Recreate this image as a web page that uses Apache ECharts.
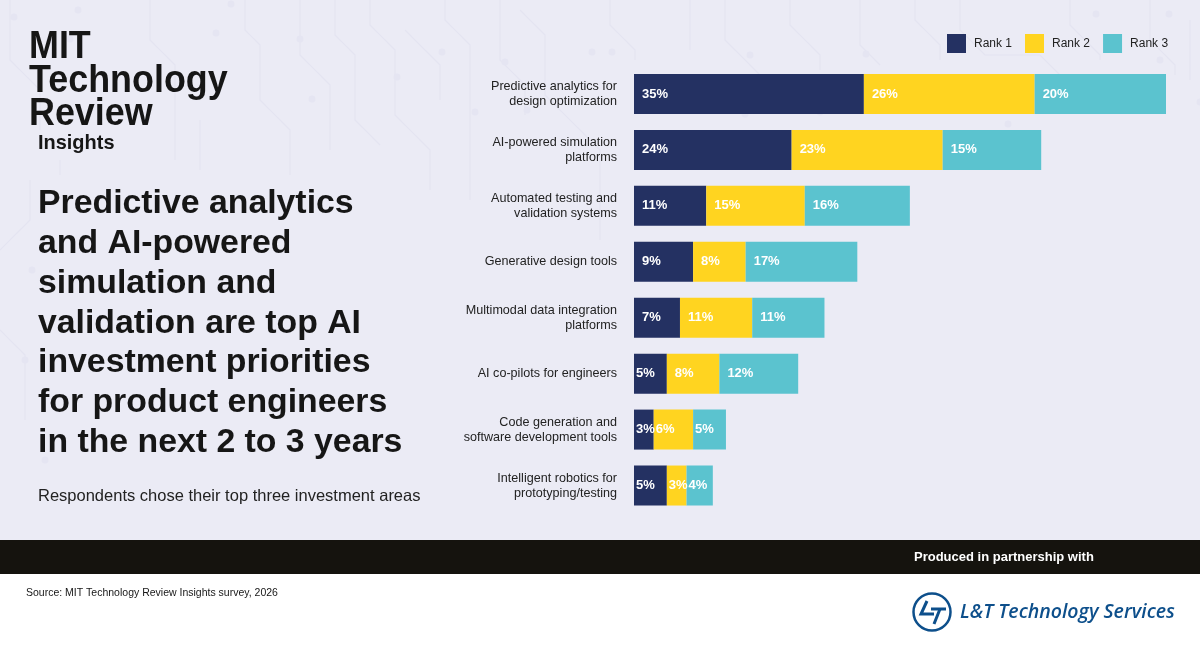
<!DOCTYPE html>
<html>
<head>
<meta charset="utf-8">
<script src="https://cdn.jsdelivr.net/npm/echarts@6/dist/echarts.min.js"></script>
<style>html,body{margin:0;padding:0;background:#ebebf5;}#chart{width:1200px;height:660px;}</style>
</head>
<body>
<div id="chart"></div>
<script>
const categories = [
  'Predictive analytics for\ndesign optimization',
  'AI-powered simulation\nplatforms',
  'Automated testing and\nvalidation systems',
  'Generative design tools',
  'Multimodal data integration\nplatforms',
  'AI co-pilots for engineers',
  'Code generation and\nsoftware development tools',
  'Intelligent robotics for\nprototyping/testing'
];
const seriesNames = ['Rank 1', 'Rank 2', 'Rank 3'];
const rank1 = [35, 24, 11, 9, 7, 5, 3, 5];
const rank2 = [26, 23, 15, 8, 11, 8, 6, 3];
const rank3 = [20, 15, 16, 17, 11, 12, 5, 4];
const colors = ['#243162', '#ffd420', '#5bc3cf'];

const titleLines = [
  'Predictive analytics',
  'and AI-powered',
  'simulation and',
  'validation are top AI',
  'investment priorities',
  'for product engineers',
  'in the next 2 to 3 years'
];
const subtitle = 'Respondents chose their top three investment areas';
const sourceText = 'Source: MIT Technology Review Insights survey, 2026';
const partnerText = 'Produced in partnership with';
const partnerName = 'L&T Technology Services';

const FONT = '"Liberation Sans", Arial, Helvetica, sans-serif';

function makeSeries(name, values, color) {
  return {
    name: name,
    type: 'bar',
    stack: 'total',
    barWidth: 40,
    itemStyle: { color: color },
    data: values.map(v => ({
      value: v,
      label: { distance: v >= 7 ? 8 : 2 }
    })),
    label: {
      show: true,
      position: 'insideLeft',
      formatter: '{c}%',
      color: '#ffffff',
      fontFamily: FONT,
      fontWeight: 'bold',
      fontSize: 13
    },
    emphasis: { disabled: true }
  };
}

// faint circuit-board decoration (background only)
const traceColor = '#e4e4f1';
const traces = [
  [[10, 0], [10, 60], [40, 90], [40, 130]],
  [[150, 0], [150, 40], [175, 65], [175, 160]],
  [[245, 0], [245, 30], [260, 45], [260, 100], [290, 130], [290, 175]],
  [[300, 0], [300, 55], [330, 85], [330, 150]],
  [[335, 0], [335, 35], [355, 55], [355, 120], [380, 145]],
  [[370, 0], [370, 25], [395, 50], [395, 115], [430, 150], [430, 190]],
  [[405, 30], [440, 65], [440, 100]],
  [[445, 0], [445, 20], [470, 45], [470, 200]],
  [[500, 0], [500, 60], [525, 85], [525, 115]],
  [[520, 10], [545, 35], [545, 95], [600, 150], [600, 240]],
  [[610, 0], [610, 25], [635, 50], [635, 60]],
  [[690, 0], [690, 50]],
  [[725, 0], [725, 40], [760, 75]],
  [[790, 0], [790, 25], [820, 55], [820, 70]],
  [[860, 0], [860, 45], [880, 65]],
  [[915, 0], [915, 20], [940, 45], [940, 60]],
  [[960, 0], [960, 30], [985, 55], [1040, 55], [1060, 75]],
  [[1070, 0], [1070, 25], [1100, 55], [1100, 60]],
  [[1150, 0], [1150, 40], [1175, 65], [1175, 75]],
  [[1190, 20], [1190, 80]],
  [[0, 250], [30, 220], [30, 180]],
  [[0, 330], [25, 355], [25, 420]],
  [[60, 160], [60, 175]],
  [[200, 120], [200, 170]]
];
const dots = [
  [14, 17], [49, 42], [70, 39], [216, 33], [231, 4], [300, 39], [397, 77], [312, 99],
  [442, 52], [475, 112], [505, 62], [527, 110], [592, 52], [612, 52], [640, 88],
  [750, 55], [745, 114], [795, 148], [820, 112], [840, 150], [866, 54], [918, 102],
  [1018, 79], [1008, 124], [1045, 110], [1096, 14], [1169, 14], [1160, 60], [1200, 102],
  [1215, 40], [32, 270], [45, 460], [25, 360], [78, 10]
];

const decoGraphics = traces.map(pts => ({
  type: 'polyline', silent: true, z: -2,
  shape: { points: pts },
  style: { fill: 'none', stroke: traceColor, lineWidth: 1.2 }
})).concat(dots.map(d => ({
  type: 'circle', silent: true, z: -2,
  shape: { cx: d[0], cy: d[1], r: 3.5 },
  style: { fill: '#e5e5f2' }
})));

const chart = echarts.init(document.getElementById('chart'), null, { renderer: 'canvas' });
const option = {
  backgroundColor: '#ebebf5',
  animation: false,
  legend: {
    data: seriesNames,
    left: 947,
    top: 34,
    padding: 0,
    icon: 'rect',
    itemWidth: 19,
    itemHeight: 19,
    itemGap: 13,
    textStyle: { color: '#222222', fontSize: 12, fontFamily: FONT, padding: [0, 0, 0, 3] },
    selectedMode: false
  },
  grid: { left: 634, right: 34, top: 66, bottom: 146.5, containLabel: false },
  xAxis: {
    type: 'value',
    min: 0,
    max: 81,
    show: false
  },
  yAxis: {
    type: 'category',
    data: categories,
    inverse: true,
    axisLine: { show: false },
    axisTick: { show: false },
    splitLine: { show: false },
    axisLabel: {
      margin: 17,
      color: '#222222',
      fontSize: 12.6,
      lineHeight: 15,
      fontFamily: FONT,
      align: 'right'
    }
  },
  series: [
    makeSeries(seriesNames[0], rank1, colors[0]),
    makeSeries(seriesNames[1], rank2, colors[1]),
    makeSeries(seriesNames[2], rank3, colors[2])
  ],
  graphic: decoGraphics.concat([
    { type: 'rect', shape: { x: 0, y: 540, width: 1200, height: 34 }, style: { fill: '#15130e' }, z: -1 },
    { type: 'rect', shape: { x: 0, y: 574, width: 1200, height: 86 }, style: { fill: '#ffffff' }, z: -1 },
    // MIT logo
    { type: 'text', x: 29, y: 47, scaleX: 0.92, style: { text: 'MIT', fill: '#161616', font: 'bold 39px ' + FONT, textVerticalAlign: 'middle' } },
    { type: 'text', x: 29, y: 81, scaleX: 0.92, style: { text: 'Technology', fill: '#161616', font: 'bold 39px ' + FONT, textVerticalAlign: 'middle' } },
    { type: 'text', x: 29, y: 114, scaleX: 0.92, style: { text: 'Review', fill: '#161616', font: 'bold 39px ' + FONT, textVerticalAlign: 'middle' } },
    { type: 'text', x: 38, y: 143, scaleX: 0.95, style: { text: 'Insights', fill: '#161616', font: 'bold 21px ' + FONT, textVerticalAlign: 'middle' } },
    // Title
    { type: 'text', x: 38, y: 184, style: { text: titleLines.join('\n'), fill: '#161616', font: 'bold 33.8px ' + FONT, lineHeight: 39.8, textVerticalAlign: 'top' } },
    { type: 'text', x: 38, y: 496, style: { text: subtitle, fill: '#222222', font: '16.5px ' + FONT, textVerticalAlign: 'middle' } },
    // footer
    { type: 'text', x: 914, y: 557, style: { text: partnerText, fill: '#ffffff', font: 'bold 13px ' + FONT, textVerticalAlign: 'middle' } },
    { type: 'text', x: 26, y: 593, style: { text: sourceText, fill: '#161616', font: '10.5px ' + FONT, textVerticalAlign: 'middle' } },
    { type: 'circle', shape: { cx: 932, cy: 612, r: 18.5 }, style: { fill: 'none', stroke: '#0d4f8b', lineWidth: 2.5 } },
    { type: 'polyline', shape: { points: [[927, 601], [921, 614], [934, 614]] }, style: { fill: 'none', stroke: '#0d4f8b', lineWidth: 3, lineJoin: 'miter' } },
    { type: 'polyline', shape: { points: [[931, 609], [946, 609]] }, style: { fill: 'none', stroke: '#0d4f8b', lineWidth: 3 } },
    { type: 'polyline', shape: { points: [[940, 609], [934, 624]] }, style: { fill: 'none', stroke: '#0d4f8b', lineWidth: 3 } },
    { type: 'text', x: 960, y: 612, style: { text: partnerName, fill: '#0d4f8b', font: 'italic 600 19.5px "Open Sans", ' + FONT, textVerticalAlign: 'middle' } }
  ])
};
chart.setOption(option);
</script>
</body>
</html>
